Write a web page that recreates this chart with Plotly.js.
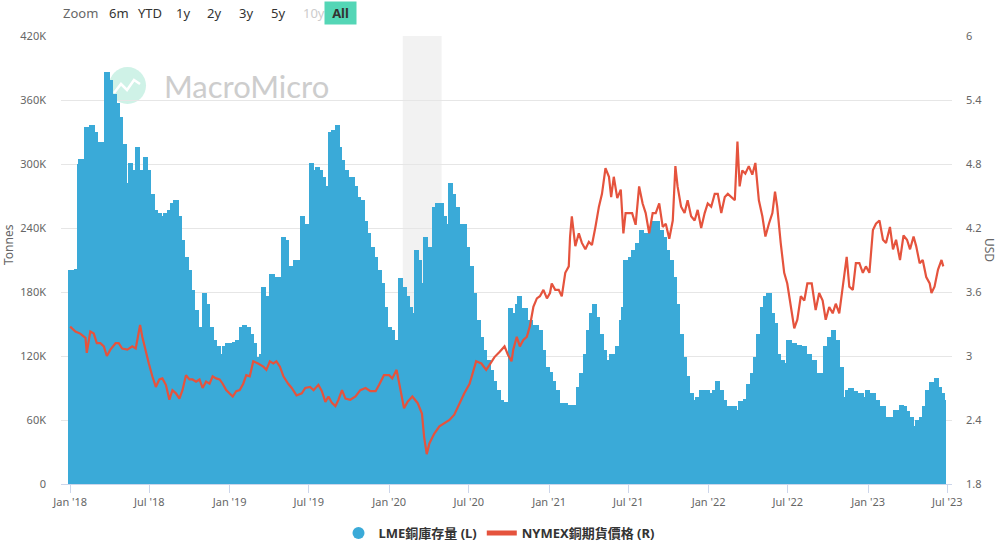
<!DOCTYPE html>
<html>
<head>
<meta charset="utf-8">
<script src="https://cdn.plot.ly/plotly-3.0.1.min.js"></script>
<style>html,body{margin:0;padding:0;background:#fff;}#chart{width:998px;height:548px;}</style>
</head>
<body>
<div id="chart"></div>
<script>
// ---- DATA ----
// Days since 2018-01-01 (date positions of LME copper inventory readings)
const stockDays = [
0,8,15,22,25,35,38,50,58,65,69,81,84,92,100,108,115,123,131,138,146,154,161,173,180,188,196,204,211,219,227,234,242,250,257,265,273,280,288,296,303,307,315,323,330,338,346,353,361,369,376,384,392,399,407,415,422,430,438,442,449,457,462,472,480,484,488,495,503,
511,517,526,531,541,548,553,561,566,572,580,587,595,603,611,617,624,632,637,645,653,660,668,676,683,691,699,707,714,722,730,737,745,753,756,764,772,779,787,793,800,808,813,822,827,833,841,849,856,864,870,878,885,893,902,910,918,925,933,941,948,956,964,971,979,987,995,1002,1008,1018,1025,
1029,1041,1052,1060,1068,1075,1083,1091,1098,1106,1114,1121,1133,1144,1156,1164,1171,1179,1187,1194,1200,1207,1215,1223,1230,1238,1246,1253,1261,1266,1271,1283,1290,1298,1307,1317,1329,1336,1344,1352,1359,1367,1375,1382,1390,1398,1406,1413,1421,1429,1436,1444,1452,1459,1467,1475,1482,1490,1498,1509,1521,1528,
1535,1545,1553,1561,1568,1576,1584,1591,1599,1607,1613,1621,1630,1637,1645,1657,1668,1680,1691,1703,1714,1722,1729,1737,1746,1756,1764,1771,1779,1787,1798,1810,1817,1825,1837,1848,1860,1871,1883,1890,1902,1909,1917,1925,1932,1940,1948,1955,1963,1971,1982,1990,1995,1998
];
// LME copper inventory, thousand tonnes
const stockK = [
201,201,202,300,305,300,335,337,330,320,321,321,386,379,366,357,344,319,282,301,294,316,294,307,294,272,257,254,251,254,257,263,266,251,229,213,201,182,163,147,138,179,169,147,135,129,122,129,132,132,133,135,147,149,147,141,132,119,122,185,176,169,197,194,191,194,232,229,204,
185,210,210,251,244,241,301,294,297,294,288,279,330,332,337,316,304,294,263,288,279,269,266,247,235,222,213,201,188,166,147,144,135,126,193,185,176,166,160,219,210,188,232,222,217,260,263,263,251,244,282,272,260,244,244,222,204,179,154,138,126,116,107,97,88,79,77,77,165,160,169,
176,165,154,149,149,144,126,110,105,97,88,76,76,74,74,91,104,122,144,160,169,157,141,126,116,122,122,129,154,166,210,213,219,226,238,235,241,247,247,238,232,219,210,194,169,141,119,101,85,79,82,88,88,88,85,88,97,88,79,73,73,69,
78,80,94,104,119,141,166,176,179,160,151,122,116,113,135,132,130,129,122,116,104,104,129,138,144,135,110,82,88,90,87,85,82,88,85,79,73,63,63,69,74,73,68,63,54,60,63,73,88,96,99,91,85,79
];
// Days since 2018-01-01 (date positions of NYMEX copper futures readings)
const priceDays = [
0,12,23,35,38,46,54,61,69,77,84,92,104,111,119,131,142,150,155,160,165,173,180,188,196,204,211,219,227,234,242,250,257,265,273,280,288,296,303,311,319,326,334,342,349,357,365,372,380,388,396,403,411,419,430,442,449,457,465,472,480,488,499,
507,518,530,538,549,557,568,576,584,591,599,607,614,622,630,641,653,664,676,687,699,707,718,730,737,747,756,764,772,783,795,805,810,816,822,833,845,856,868,879,891,902,914,922,929,941,952,960,971,983,994,1002,1010,
1014,1022,1029,1037,1045,1052,1060,1068,1075,1083,1091,1098,1102,1110,1118,1125,1133,1141,1144,1148,1156,1164,1171,1179,1187,1194,1202,1210,1217,1225,1233,1238,1244,1252,1260,1266,1271,1279,1286,1294,1302,1310,1317,1325,1333,1340,1348,1356,1363,1371,1379,1385,1390,1398,1406,1413,1421,1429,1436,1444,1452,1459,1467,1475,1482,1490,1498,1505,1513,1521,1527,1532,
1538,1545,1553,1561,1568,1576,1584,1591,1599,1607,1613,1618,1626,1634,1641,1649,1657,1664,1672,1680,1687,1697,1706,1714,1722,1729,1737,1745,1752,1760,1768,1777,1783,1791,1798,1806,1814,1821,1829,1837,1844,1852,1860,1867,1876,1883,1890,1899,1907,1915,1922,1930,1936,1944,1951,1959,1967,1971,1978,1986,1994,1998
];
// NYMEX copper futures, USD/lb
const priceUSD = [
3.275,3.23,3.21,3.17,3.03,3.23,3.21,3.12,3.12,3.09,3.00,3.06,3.12,3.12,3.07,3.06,3.09,3.07,3.18,3.29,3.18,3.03,2.93,2.81,2.71,2.78,2.79,2.73,2.59,2.68,2.65,2.60,2.68,2.82,2.78,2.78,2.76,2.78,2.70,2.76,2.74,2.81,2.79,2.78,2.74,2.68,2.65,2.62,2.67,2.68,2.74,2.82,2.81,2.95,2.93,2.90,2.87,2.95,2.93,2.95,2.90,2.81,2.74,
2.70,2.63,2.65,2.70,2.71,2.68,2.73,2.67,2.57,2.62,2.56,2.53,2.59,2.68,2.60,2.59,2.62,2.68,2.70,2.67,2.67,2.73,2.82,2.82,2.79,2.87,2.68,2.51,2.57,2.62,2.56,2.46,2.24,2.08,2.18,2.27,2.34,2.37,2.40,2.45,2.56,2.65,2.74,2.84,2.95,2.93,2.87,2.92,2.99,3.04,3.09,3.01,2.95,
3.06,3.18,3.09,3.15,3.18,3.28,3.46,3.54,3.56,3.62,3.54,3.59,3.68,3.62,3.62,3.56,3.78,3.84,4.12,4.31,4.03,4.15,4.06,4.00,4.07,4.04,4.21,4.40,4.52,4.76,4.68,4.49,4.68,4.48,4.56,4.15,4.34,4.34,4.34,4.23,4.59,4.43,4.34,4.15,4.34,4.34,4.43,4.21,4.24,4.10,4.27,4.78,4.59,4.40,4.34,4.46,4.31,4.27,4.37,4.20,4.34,4.43,4.40,4.52,4.52,4.34,4.49,4.52,4.49,4.46,5.01,4.59,
4.74,4.71,4.78,4.70,4.81,4.46,4.31,4.12,4.24,4.34,4.54,4.40,4.06,3.78,3.68,3.46,3.26,3.34,3.56,3.52,3.68,3.68,3.43,3.59,3.52,3.34,3.46,3.40,3.49,3.40,3.65,3.93,3.65,3.62,3.87,3.87,3.78,3.84,3.78,4.18,4.24,4.27,4.09,4.06,4.21,4.00,4.09,3.90,4.13,4.09,4.00,4.12,4.03,3.87,3.90,3.74,3.68,3.59,3.65,3.81,3.90,3.84
];
const xTickDates = ['2018-01-01','2018-07-01','2019-01-01','2019-07-01','2020-01-01','2020-07-01','2021-01-01','2021-07-01','2022-01-01','2022-07-01','2023-01-01','2023-07-01'];
const xTickLabels = ["Jan '18","Jul '18","Jan '19","Jul '19","Jan '20","Jul '20","Jan '21","Jul '21","Jan '22","Jul '22","Jan '23","Jul '23"];
const yLeftTicks = [0,60000,120000,180000,240000,300000,360000,420000];
const yLeftLabels = ['0','60K','120K','180K','240K','300K','360K','420K'];
const yRightTicks = [1.8,2.4,3,3.6,4.2,4.8,5.4,6];
const yRightLabels = ['1.8','2.4','3','3.6','4.2','4.8','5.4','6'];
const recessionStart = '2020-02-01';
const recessionEnd = '2020-04-30';
const seriesNames = ['LME銅庫存量 (L)', 'NYMEX銅期貨價格 (R)'];
const zoomButtons = ['6m','YTD','1y','2y','3y','5y','10y','All'];

// ---- BUILD ----
const BASE = Date.UTC(2018,0,1);
const toDate = d => new Date(BASE + d*86400000).toISOString().slice(0,10);
const stockX = stockDays.map(toDate);
const stockY = stockK.map(v => v*1000);
const priceX = priceDays.map(toDate);

const BAR = '#3aaad8', RED = '#e5533d';
const FONT = 'Noto Sans, Noto Sans CJK TC, sans-serif';

// pixel -> paper helpers for decorations (plot area 61..952 x 36..484)
const L=61, R=952, T=36, B=484;
const px = p => (p-L)/(R-L);
const py = p => (B-p)/(B-T);

const traces = [
  {type:'bar', x:stockX, y:stockY, name:seriesNames[0], showlegend:false,
   width:12*86400000, marker:{color:BAR, line:{width:0}}, yaxis:'y', hoverinfo:'x+y'},
  {type:'scatter', mode:'markers', x:[null], y:[null], name:seriesNames[0],
   marker:{symbol:'circle', size:13, color:BAR}, showlegend:true, hoverinfo:'skip'},
  {type:'scatter', mode:'lines', x:priceX, y:priceUSD, name:seriesNames[1], yaxis:'y2',
   line:{color:RED, width:2.2}}
];

const annotations = [
  {text:'Zoom', x:px(61), y:py(13), xref:'paper', yref:'paper', xanchor:'left', yanchor:'middle', showarrow:false, font:{family:FONT, size:13, color:'#666'}}
];
const btnX = [107,136,174,205,237,269,301,324];
zoomButtons.forEach((b,i)=>{
  const isAll = b==='All';
  const a = {text: isAll? '<b>All</b>' : b, x:px(btnX[i]), y:py(13), xref:'paper', yref:'paper', xanchor:'left', yanchor:'middle', showarrow:false,
    font:{family:FONT, size:13, color: b==='10y' ? '#cccccc' : '#333'}};
  if(isAll){ a.bgcolor='#54d6b6'; a.width=27; a.height=18; a.borderpad=2; a.align='center'; }
  annotations.push(a);
});
annotations.push({text:'MacroMicro', x:px(162), y:py(86), xref:'paper', yref:'paper', xanchor:'left', yanchor:'middle', showarrow:false,
  font:{family:'Lato, Noto Sans, sans-serif', size:31, color:'#cdcdcd'}});
annotations.push({text:'Tonnes', textangle:-90, x:px(9), y:py(245), xref:'paper', yref:'paper', xanchor:'center', yanchor:'middle', showarrow:false,
  font:{family:FONT, size:12, color:'#666'}});
annotations.push({text:'USD', textangle:90, x:px(990), y:py(250), xref:'paper', yref:'paper', xanchor:'center', yanchor:'middle', showarrow:false,
  font:{family:FONT, size:12, color:'#666'}});

const iconPts = [[114,93],[121,84],[127,90],[134,80],[140,84]];
const iconPath = 'M ' + iconPts.map(p=>px(p[0])+','+py(p[1])).join(' L ');

const shapes = [
  {type:'rect', xref:'x', yref:'paper', x0:recessionStart, x1:recessionEnd, y0:0, y1:1, fillcolor:'#f2f2f2', line:{width:0}, layer:'below'},
  {type:'circle', xref:'paper', yref:'paper', x0:px(109), x1:px(146), y0:py(104), y1:py(67), fillcolor:'#cff2e7', line:{width:0}, layer:'below'},
  {type:'path', xref:'paper', yref:'paper', path:iconPath, line:{color:'#ffffff', width:2.5}, layer:'below'}
];

const layout = {
  width:998, height:548,
  margin:{l:L, r:998-R, t:T, b:548-B, pad:0},
  paper_bgcolor:'#ffffff', plot_bgcolor:'#ffffff',
  font:{family:FONT, size:11, color:'#666'},
  bargap:0,
  showlegend:true,
  legend:{orientation:'h', xref:'container', yref:'container', x:0.5, y:(548-533)/548, xanchor:'center', yanchor:'middle',
    font:{family:FONT, size:13, color:'#333', weight:'bold'}, itemsizing:'constant', traceorder:'normal'},
  xaxis:{type:'date', range:['2017-12-11','2023-07-12'], tickvals:xTickDates, ticktext:xTickLabels,
    showgrid:false, showline:true, linecolor:'#ccd6eb', linewidth:1, ticks:'outside', ticklen:8, tickcolor:'#ccd6eb',
    tickfont:{family:FONT, size:11, color:'#666'}, zeroline:false, fixedrange:true},
  yaxis:{range:[0,420000], tickvals:yLeftTicks, ticktext:yLeftLabels, showgrid:true, gridcolor:'#e6e6e6', gridwidth:1,
    zeroline:false, showline:false, ticks:'', ticklabelstandoff:14, tickfont:{family:FONT, size:11, color:'#666'}, fixedrange:true},
  yaxis2:{range:[1.8,6], overlaying:'y', side:'right', tickvals:yRightTicks, ticktext:yRightLabels, showgrid:false,
    zeroline:false, showline:false, ticks:'', ticklabelstandoff:13, tickfont:{family:FONT, size:11, color:'#666'}, fixedrange:true},
  annotations, shapes
};

Plotly.newPlot('chart', traces, layout, {displayModeBar:false, staticPlot:true});
</script>
</body>
</html>
